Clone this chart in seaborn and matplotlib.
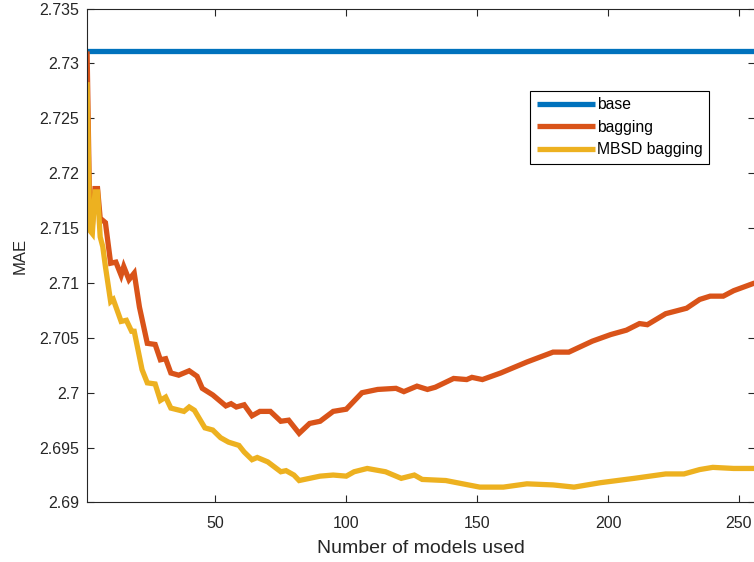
import matplotlib
matplotlib.use("Agg")
import matplotlib.pyplot as plt
import seaborn as sns
import pandas as pd

# ---- data ----
base_x = [1, 256]
base_mae = [2.7311, 2.7311]

bagging_x = [1, 2, 3, 4, 5, 6, 7, 8, 10, 12, 14, 15, 17, 19, 21, 24, 27, 29, 31, 33,
             36, 40, 43, 45, 49, 54, 56, 58, 61, 64, 67, 71, 75, 78, 82, 86, 90, 95,
             100, 106, 112, 119, 122, 127, 131, 134, 141, 146, 148, 152, 159, 169,
             179, 185, 194, 201, 207, 212, 215, 222, 230, 235, 239, 244, 248, 256]
bagging_mae = [2.7311, 2.7162, 2.7152, 2.7186, 2.7186, 2.7159, 2.7157, 2.7155, 2.7118,
               2.7119, 2.7107, 2.7115, 2.7103, 2.7109, 2.7078, 2.7045, 2.7044, 2.7030,
               2.7031, 2.7018, 2.7016, 2.7020, 2.7015, 2.7004, 2.6998, 2.6988, 2.6990,
               2.6987, 2.6989, 2.6979, 2.6983, 2.6983, 2.6974, 2.6975, 2.6963, 2.6972,
               2.6974, 2.6983, 2.6985, 2.7000, 2.7003, 2.7004, 2.7001, 2.7006, 2.7003,
               2.7005, 2.7013, 2.7012, 2.7014, 2.7012, 2.7018, 2.7028, 2.7037, 2.7037,
               2.7047, 2.7053, 2.7057, 2.7063, 2.7062, 2.7072, 2.7077, 2.7085, 2.7088,
               2.7088, 2.7093, 2.7100]

mbsd_x = [1, 2, 3, 4, 5, 6, 7, 8, 10, 11, 14, 16, 18, 19, 22, 24, 27, 29, 31, 33, 38,
          40, 42, 46, 49, 52, 55, 59, 61, 64, 66, 70, 75, 77, 80, 82, 86, 90, 95, 100,
          103, 108, 115, 121, 126, 129, 138, 151, 160, 169, 179, 187, 197, 210, 222,
          229, 235, 240, 248, 256]
mbsd_mae = [2.7283, 2.7148, 2.7145, 2.7183, 2.7183, 2.7142, 2.7133, 2.7115, 2.7083,
            2.7085, 2.7065, 2.7066, 2.7056, 2.7056, 2.7021, 2.7009, 2.7008, 2.6993,
            2.6996, 2.6986, 2.6983, 2.6987, 2.6984, 2.6968, 2.6966, 2.6959, 2.6955,
            2.6952, 2.6946, 2.6939, 2.6941, 2.6937, 2.6928, 2.6929, 2.6925, 2.6920,
            2.6922, 2.6924, 2.6925, 2.6924, 2.6928, 2.6931, 2.6928, 2.6922, 2.6925,
            2.6921, 2.6920, 2.6914, 2.6914, 2.6917, 2.6916, 2.6914, 2.6918, 2.6922,
            2.6926, 2.6926, 2.6930, 2.6932, 2.6931, 2.6931]

series_labels = ["base", "bagging", "MBSD bagging"]
series_colors = ["#0072BD", "#D95319", "#EDB120"]

x_ticks = [50, 100, 150, 200, 250]
y_ticks = [2.69, 2.695, 2.7, 2.705, 2.71, 2.715, 2.72, 2.725, 2.73, 2.735]
y_tick_labels = ["2.69", "2.695", "2.7", "2.705", "2.71", "2.715", "2.72", "2.725", "2.73", "2.735"]

# ---- styling ----
sns.set_style("ticks")
plt.rcParams["font.family"] = ["Liberation Sans", "DejaVu Sans"]
axis_grey = "#262626"

fig = plt.figure(figsize=(7.54, 5.62), dpi=100)
ax = fig.add_axes([0.1155, 0.1059, 0.8854, 0.8788])

sets = [(base_x, base_mae), (bagging_x, bagging_mae), (mbsd_x, mbsd_mae)]
for (xs, ys), lab, col in zip(sets, series_labels, series_colors):
    df = pd.DataFrame({"n": xs, "mae": ys})
    sns.lineplot(data=df, x="n", y="mae", ax=ax, color=col, linewidth=3.8,
                 label=lab, solid_joinstyle="miter", solid_capstyle="butt")

ax.set_xlim(1, 256)
ax.set_ylim(2.69, 2.735)
ax.set_xticks(x_ticks)
ax.set_xticklabels([str(t) for t in x_ticks])
ax.set_yticks(y_ticks)
ax.set_yticklabels(y_tick_labels)
ax.tick_params(direction="in", length=5, width=0.8, colors=axis_grey,
               labelsize=11.5, top=True, right=True)
ax.tick_params(axis="x", pad=10)
ax.tick_params(axis="y", pad=5.5)
for side in ["left", "bottom", "top", "right"]:
    ax.spines[side].set_visible(True)
    ax.spines[side].set_color(axis_grey)
    ax.spines[side].set_linewidth(0.8)

ax.set_xlabel("Number of models used", fontsize=14, color=axis_grey, labelpad=6)
ax.set_ylabel("MAE", fontsize=12, color=axis_grey, labelpad=8.5)

handles, labels = ax.get_legend_handles_labels()
leg = ax.legend(handles, labels, loc="upper left", bbox_to_anchor=(0.6634, 0.8338),
                frameon=True, fancybox=False, edgecolor="black", framealpha=1,
                fontsize=11.3, handlelength=3.7, handletextpad=0.13,
                labelspacing=0.47, borderpad=0.42, borderaxespad=0)
leg.get_frame().set_linewidth(0.8)
for t in leg.get_texts():
    t.set_color("black")

fig.savefig("out.png", dpi=100)
